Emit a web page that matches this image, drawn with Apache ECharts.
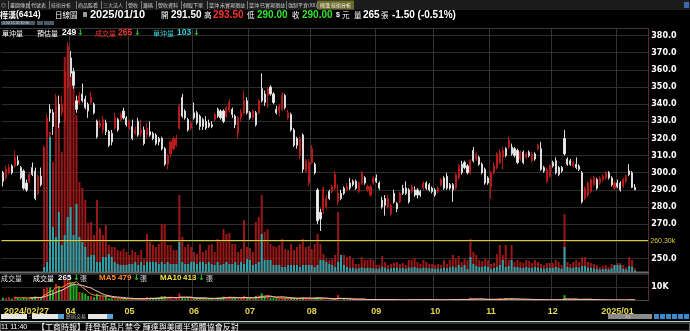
<!DOCTYPE html>
<html><head><meta charset="utf-8">
<script src="https://cdn.jsdelivr.net/npm/echarts/dist/echarts.min.js"></script>
<style>html,body{margin:0;padding:0;background:#000;}#c{width:690px;height:331px;}</style>
</head><body><div id="c"></div>
<script>
function md(m, ds){ return ds.map(function(d){ return m + "/" + (d < 10 ? "0" + d : "" + d); }); }
const dates = [].concat(
  md("2024/02",[27,29]),
  md("2024/03",[1,4,5,6,7,8,11,12,13,14,15,18,19,20,21,22,25,26,27,28,29]),
  md("2024/04",[1,2,3,8,9,10,11,12,15,16,17,18,19,22,23,24,25,26,29,30]),
  md("2024/05",[2,3,6,7,8,9,10,13,14,15,16,17,20,21,22,23,24,27,28,29,30,31]),
  md("2024/06",[3,4,5,6,7,11,12,13,14,17,18,19,20,21,24,25,26,27,28]),
  md("2024/07",[1,2,3,4,5,8,9,10,11,12,15,16,17,18,19,22,23,26,29,30,31]),
  md("2024/08",[1,2,5,6,7,8,9,12,13,14,15,16,19,20,21,22,23,26,27,28,29,30]),
  md("2024/09",[2,3,4,5,6,9,10,11,12,13,16,18,19,20,23,24,25,26,27,30]),
  md("2024/10",[1,4,7,8,9,11,14,15,16,17,18,21,22,23,24,25,28,29,30]),
  md("2024/11",[1,4,5,6,7,8,11,12,13,14,15,18,19,20,21,22,25,26,27,28,29]),
  md("2024/12",[2,3,4,5,6,9,10,11,12,13,16,17,18,19,20,23,24,25,26,27,30,31]),
  md("2025/01",[2,3,6,7,8,9,10])
);
const tickDates  = ["2024/02/27","2024/04/01","2024/05/02","2024/06/03","2024/07/01","2024/08/01","2024/09/02","2024/10/01","2024/11/01","2024/12/02","2025/01/02"];
const tickLabels = ["2024/02/27","04","05","06","07","08","09","10","11","12","2025/01"];
const priceTicks = [250,260,270,280,290,300,310,320,330,340,350,360,370,380];

const openP = [
300,297,300,304,304,307,303,301,294,295, 303,301,288,298,298,323,337,335,332,340,
335,330,350,367,359,342,341,346,343,340, 341,340,330,327,325,329,324,323,326,331,
331,336,332,326,327,323,330,323,325,322, 324,323,322,320,320,314,305,311,314,316,
326,344,336,331,326,335,335,333,331,330, 329,328,331,337,336,336,333,336,337,333,
323,332,335,342,335,332,335,335,349,346, 345,350,346,337,336,337,345,332,334,325,
320,310,322,301,294,306,305,290,277,278, 280,289,289,291,283,288,291,290,294,295,
295,289,294,297,290,287,294,297,294,284, 285,280,276,288,282,283,291,291,290,289,
290,290,289,291,294,293,291,290,289,293, 297,298,293,293,291,297,305,306,304,300,
313,308,309,305,302,297,292,300,303,306, 309,314,315,315,314,313,308,312,309,312,
307,311,314,314,303,295,298,306,307,303, 303,320,308,307,304,305,304,300,285,287,
289,293,296,294,296,297,300,297,291,294, 294,292,295,301,300,291.5];
const closeP = [
295,302,303,300,309,305,297,291,290,299, 299,285,298,293,314,332,335,327,338,329,
340,359,374,358,351,337,345,342,338,336, 344,335,321,329,331,324,316,318,332,325,
334,332,328,330,320,325,322,325,317,326, 322,320,317,318,314,305,310,318,320,320,
339,333,332,325,329,332,329,327,327,326, 327,327,334,333,332,330,338,341,334,328,
332,335,342,335,332,336,328,342,342,341, 349,346,341,335,339,345,338,335,325,316,
316,320,302,307,306,314,300,272,273,291, 285,285,292,299,288,285,288,292,291,293,
291,294,300,294,292,292,297,295,291,280, 281,285,281,283,279,288,288,288,283,292,
287,287,287,294,291,290,289,287,291,296, 291,291,291,290,299,304,300,303,300,307,
307,311,305,300,294,294,300,304,311,312, 313,310,319,311,310,306,312,306,311,310,
311,308,316,302,301,302,304,304,300,299, 301,311,305,305,306,303,302,283,291,294,
296,297,291,297,298,300,297,293,294,292, 290,296,298,299,291.5,290];
const lowP = [
292,296,299,299,303,304,296,290,289,294, 298,284,287,292,297,321,330,322,330,326,
333,328,348,356,349,335,340,341,337,332, 340,334,320,326,323,322,315,316,325,324,
330,331,327,325,319,322,321,321,316,320, 321,319,316,316,313,304,302,309,313,315,
325,332,331,324,325,331,328,325,325,325, 326,326,330,332,331,329,332,335,332,326,
320,330,334,334,331,331,327,334,341,339, 338,345,340,334,333,336,337,331,324,315,
314,308,300,300,292,305,299,270,266,276, 279,284,288,290,281,284,287,289,290,292,
290,288,293,293,289,286,293,294,290,279, 275,279,275,282,277,282,287,287,282,288,
286,285,286,290,290,289,288,286,288,292, 290,290,290,283,290,296,299,302,299,299,
306,307,304,299,293,293,285,299,302,305, 302,309,314,310,309,305,307,305,308,309,
306,307,313,301,300,294,297,303,299,298, 300,310,304,304,303,302,301,282,284,286,
288,292,290,293,295,296,296,292,290,291, 289,291,294,298,291,290];
const highP = [
301,304,305,305,313,310,304,302,296,300, 306,303,299,303,316,334,340,337,346,345,
345,362,376,371,361,345,347,352,345,341, 347,341,331,331,333,331,325,325,335,332,
335,338,333,331,331,327,332,331,327,329, 330,324,323,321,321,315,311,319,321,322,
340,346,337,332,330,341,336,334,332,333, 331,330,335,338,337,337,339,343,338,334,
333,337,348,344,336,337,336,343,358,348, 350,351,347,339,340,347,346,337,335,326,
321,321,323,308,308,316,306,291,279,292, 287,290,293,301,293,290,292,294,297,296,
296,295,301,298,293,293,298,299,295,286, 287,287,282,290,283,289,293,295,291,293,
292,291,290,295,295,294,292,291,292,297, 298,300,294,294,300,305,307,307,305,308,
315,312,310,306,303,298,301,306,312,314, 315,315,321,317,315,314,313,313,312,313,
312,312,317,318,304,303,305,307,309,304, 304,325,309,308,307,309,305,301,292,295,
297,298,297,298,299,301,301,298,295,296, 295,297,299,305,301,293.5];
const volume = [
2200,1800,2500,1500,3000,2000,1600,2400,1800,1500, 2600,3200,2800,2000,8750,9800,9800,7700,12250,10500,
8400,15050,15750,13790,13090,10990,6300,5880,5040,3430, 3500,2590,5040,3080,2590,3290,1890,1750,1750,1540,
1470,1610,1400,1190,1540,1400,1190,1540,910,2660, 2100,1890,1750,1960,3360,3360,1890,1890,1540,1540,
5390,2450,1750,1960,1750,1400,1260,1960,1400,1540, 1890,1960,1400,2310,2100,3010,2660,2730,1960,1960,
1400,1610,3640,1750,1680,1400,3500,3850,5390,2800, 3010,1960,1820,1750,1890,2310,1610,1540,1960,1540,
1750,1960,2310,1750,1820,1610,1960,2660,1960,1260, 910,840,910,1190,4200,840,1190,1050,1120,910,
560,560,1050,840,840,910,840,490,490,1120, 700,490,560,630,700,560,630,490,840,840,
980,700,560,840,700,560,560,490,560,490, 840,560,840,1190,910,1120,700,910,840,2310,
1400,1190,840,770,910,840,560,630,1260,1890, 1190,1890,840,1890,700,840,700,630,840,770,
630,840,700,560,490,630,630,630,840,700, 490,4060,700,560,700,840,700,1050,1050,700,
630,560,490,350,420,490,350,560,490,630, 630,490,350,1050,840,265];
const dayTrade = [
null,null,null,null,null,null,null,null,null,null, null,null,null,null,350,700,9450,3150,2450,4200,
1890,2590,3850,4550,2590,4760,2450,2100,1750,1050, 1190,1190,700,700,1050,1050,1260,1050,700,560,
490,490,490,560,560,700,490,700,490,700, 700,700,700,560,700,560,700,560,560,560,
2100,700,560,560,700,700,560,700,700,560, 700,560,490,700,490,560,700,560,560,700,
490,700,560,910,840,490,560,700,2660,840, 840,840,490,490,490,350,350,490,490,490,
490,350,490,490,490,490,350,490,840,840, 700,560,490,350,700,1190,490,350,280,300,
250,260,320,280,300,280,260,220,240,350, 300,220,260,280,300,250,280,230,320,300,
350,280,250,300,280,250,240,220,250,230, 300,260,320,380,320,490,350,490,210,1050,
560,420,350,350,420,350,210,280,350,490, 840,350,420,840,350,350,300,280,350,300,
280,350,300,250,220,280,280,280,350,300, 220,1750,350,280,300,350,300,420,420,300,
280,250,220,180,200,220,180,250,490,490, 490,220,180,420,350,103];
const refLine = 2191;

const N = dates.length;
const cats = dates.concat(["","","",""]);
const tickIdx = tickDates.map(d => dates.indexOf(d));
const gridIdx = tickIdx.slice(1);
const candle = dates.map((d,i) => [openP[i], closeP[i], lowP[i], highP[i]]);
const overlayVol = volume.map((v,i) => dayTrade[i] == null ? null : v);
function ma(n){ return volume.map((v,i) => { if (i < n-1) return null; let s=0; for (let k=i-n+1;k<=i;k++) s+=volume[k]; return s/n; }); }
const lowerBars = volume.map((v,i) => ({value: v, itemStyle: {color: closeP[i] >= openP[i] ? '#c42222' : '#22b022'}}));

const CJK = '"Noto Sans CJK TC", sans-serif';
const NUM = '"Liberation Sans", Arial, sans-serif';
const ARW = '"DejaVu Sans", sans-serif';
const G = [];
function T(x, y, text, size, color, bold, fam){
  G.push({type:'text', x:x, y:y, silent:true, z:100, style:{text:text, fontSize:size, fill:color, fontWeight: bold?'bold':'normal', fontFamily: fam || CJK, textVerticalAlign:'middle'}});
}
function R(x,y,w,h,fill,stroke){ G.push({type:'rect', silent:true, z:90, shape:{x:x,y:y,width:w,height:h}, style:{fill:fill||'none', stroke:stroke||null, lineWidth:1}}); }
function L(x1,y1,x2,y2,c,w){ G.push({type:'line', silent:true, z:95, shape:{x1:x1,y1:y1,x2:x2,y2:y2}, style:{stroke:c, lineWidth:w||1}}); }

// tab strip
R(0,0,690,10,'#1c1c1c');
const tabs = [["◎",1],["畫圖傳真",10],["代號表",31],["技術分析",51],["商品監看",78],["三大法人",103],["營收",128],["籌碼",143],["營收資料",158],["個股下單",183],["當沖 未實現損益",209],["當沖 已實現損益",249],["強制平倉(XX)",288]];
tabs.forEach(t => { T(t[1], 5, t[0], 5, '#cfcfcf', false); });
[8,29,49,76,101,126,141,156,181,207,247,286,317].forEach(x => L(x+0.5,1,x+0.5,9,'#777'));
R(318,0.5,36,9,'#6b6a2a');
T(320,5,"樺漢 技術分析",5,'#fff',false);
R(684,2,5,6,'#3a6ab0');

// title row
T(0,15,"樺漢",8,'#fff',true);
T(16,15,"(6414)",8.5,'#fff',true,NUM);
T(55,15,"日線圖",7.5,'#fff',false);
R(83,12,4,5,'#9a9a9a');
T(90,15,"2025/01/10",11,'#fff',true,NUM);
T(161,15,"開",7.5,'#fff',false);
T(171,15,"291.50",10,'#fff',true,NUM);
T(204,15,"高",7.5,'#fff',false);
T(213,15,"293.50",10,'#ff3030',true,NUM);
T(247,15,"低",7.5,'#fff',false);
T(257,15,"290.00",10,'#33e033',true,NUM);
T(292,15,"收",7.5,'#fff',false);
T(302,15,"290.00",10,'#33e033',true,NUM);
T(336,15,"$",7,'#fff',true,NUM);
T(342,15,"元",7.5,'#fff',false);
T(354,15,"量",7.5,'#fff',false);
T(363,15,"265",10,'#fff',true,NUM);
T(381,15,"張",7.5,'#fff',false);
T(392,15,"-1.50 (-0.51%)",10,'#fff',true,NUM);

// tool row
R(1,21,34,4,'#4a5a66'); R(37,21,6,4,'#4a5a66'); R(44,21,10,4,'#4a5a66');
T(3,23,"5 10 15 20 30 60",3.5,'#cde',false,NUM);

// chart header
T(2,33,"單沖量",7,'#fff',false);
T(37,33,"預估量",7,'#fff',false);
T(62,33,"249",8.5,'#fff',true,NUM);
T(77,33,"↓",8,'#22d022',true,ARW);
T(95,33,"成交量",7,'#ff3333',false);
T(118,33,"265",8.5,'#ff3333',true,NUM);
T(134,33,"↓",8,'#22d022',true,ARW);
T(153,33,"單沖量",7,'#33d0d8',false);
T(177,33,"103",8.5,'#33d0d8',true,NUM);
T(193,33,"↓",8,'#22d022',true,ARW);

// lower header
T(1,278,"成交量",7,'#ddd',false);
T(33,278,"成交量",7,'#fff',false);
T(58,278,"265",8,'#fff',true,NUM);
T(73,278,"↓",8,'#22d022',true,ARW);
T(80,278,"張",7,'#ddd',false);
T(99,278,"MA5",8,'#ff8a2a',true,NUM);
T(118,278,"479",8,'#ff8a2a',true,NUM);
T(133,278,"↓",8,'#22d022',true,ARW);
T(140,278,"張",7,'#ddd',false);
T(160,278,"MA10",8,'#f0e040',true,NUM);
T(183,278,"413",8,'#f0e040',true,NUM);
T(198,278,"↓",8,'#22d022',true,ARW);
T(206,278,"張",7,'#ddd',false);

// frames
L(0,28.5,649,28.5,'#3a3a3a');
L(648.5,28,648.5,301,'#5a2a3a');
L(0,272.5,649,272.5,'#6a6a6a',2);
L(0,300.5,649,300.5,'#4a4a4a');

// bottom strip
R(1,314,26,5,'#e8e8e8'); T(28.5,316.5,"-",6,'#ccc',false,NUM); R(32,314,32,5,'#e8e8e8'); R(58,314,6,5,'#5aa0d0');
T(66,316.5,"歷屆交易",5,'#bbb',false);
R(88,314,19,5,'#e8e8e8'); R(107,314,6,5,'#5aa0d0');
R(608,314,44,5,'#8a8a8a'); T(625,316.5,"1/1",4,'#ddd',false,NUM);
[654,660,666,672,678,684].forEach(x => R(x,314,5,5,'#3a8ad0'));
L(0,321.5,690,321.5,'#b8cfcf');
R(0.5,323,689,8,'#050505','#666');
T(1,327,"11 11:40",7,'#fff',false,NUM);
T(37,327,"【工商時報】拜登新晶片禁令 輝達與美國半導體協會反對",8,'#fff',false);

const chart = echarts.init(document.getElementById('c'), null, {renderer:'canvas'});
const xBase = {type:'category', data: cats, boundaryGap:true, axisLine:{show:false}, axisTick:{show:false}, axisLabel:{show:false}, splitLine:{show:false}};
chart.setOption({
  backgroundColor:'#000',
  animation:false,
  grid:[
    {left:1.5, width:646.8, top:35.6, height:222.86},
    {left:1.5, width:646.8, top:29, height:243},
    {left:1.5, width:646.8, top:274, height:26.7}
  ],
  xAxis:[
    Object.assign({}, xBase, {gridIndex:0}),
    Object.assign({}, xBase, {gridIndex:1, splitLine:{show:true, interval:(i)=>gridIdx.indexOf(i)>=0, lineStyle:{color:'#333', width:1}}}),
    Object.assign({}, xBase, {gridIndex:2, splitLine:{show:true, interval:(i)=>gridIdx.indexOf(i)>=0, lineStyle:{color:'#333', width:1}},
      axisLabel:{show:true, interval:(i)=>tickIdx.indexOf(i)>=0, margin:6, color:'#e6d64a', fontSize:9, fontWeight:'bold', fontFamily:NUM,
        formatter:(v,i)=>{ const k = tickIdx.indexOf(i); if (k<0) return ''; return k===0 ? '{l|'+tickLabels[k]+'}' : tickLabels[k]; },
        rich:{l:{color:'#e6d64a', fontSize:9, fontWeight:'bold', fontFamily:NUM, padding:[0,0,0,47]}}}})
  ],
  yAxis:[
    {type:'value', gridIndex:0, position:'right', min:priceTicks[0], max:priceTicks[priceTicks.length-1], interval:10,
      axisLine:{show:false}, axisTick:{show:false},
      axisLabel:{margin:3, color:'#fff', fontSize:8, fontWeight:'bold', fontFamily:'"DejaVu Sans", sans-serif',
        formatter:(v)=> v===260 ? '' : v.toFixed(1)},
      splitLine:{lineStyle:{color:'#2c2c2c', width:1}}},
    {type:'value', gridIndex:1, min:0, max:17010, show:false, splitLine:{show:false}},
    {type:'value', gridIndex:2, position:'right', min:0, max:19489, interval:10000,
      axisLine:{show:false}, axisTick:{show:false},
      axisLabel:{margin:3, color:'#fff', fontSize:8, fontWeight:'bold', fontFamily:'"DejaVu Sans", sans-serif', formatter:(v)=> v===10000 ? '10K' : ''},
      splitLine:{lineStyle:{color:'#2c2c2c', width:1}}}
  ],
  graphic: G,
  series:[
    {type:'bar', xAxisIndex:1, yAxisIndex:1, data: overlayVol, barWidth:2, itemStyle:{color:'#9c1818'}, z:1, silent:true,
      markLine:{silent:true, symbol:'none', lineStyle:{color:'#d8d028', width:1, type:'solid'},
        label:{show:true, position:'end', formatter:'260.30k', color:'#d8d028', fontSize:7, fontFamily:NUM, distance:2},
        data:[{yAxis: refLine}]}},
    {type:'bar', xAxisIndex:1, yAxisIndex:1, data: dayTrade, barWidth:2, barGap:'-100%', itemStyle:{color:'#2aa3aa'}, z:2, silent:true},
    {type:'candlestick', xAxisIndex:0, yAxisIndex:0, data: candle, barWidth:1.6, z:5, silent:true,
      itemStyle:{color:'#b81a1a', color0:'#f2f2f2', borderColor:'#b81a1a', borderColor0:'#dcdcdc', borderWidth:1}},
    {type:'bar', xAxisIndex:2, yAxisIndex:2, data: lowerBars, barWidth:2, barMinHeight:1, silent:true},
    {type:'line', xAxisIndex:2, yAxisIndex:2, data: ma(5), showSymbol:false, lineStyle:{color:'#ff8a2a', width:1}, silent:true},
    {type:'line', xAxisIndex:2, yAxisIndex:2, data: ma(10), showSymbol:false, lineStyle:{color:'#f0c8c8', width:1}, silent:true}
  ]
});
</script></body></html>
